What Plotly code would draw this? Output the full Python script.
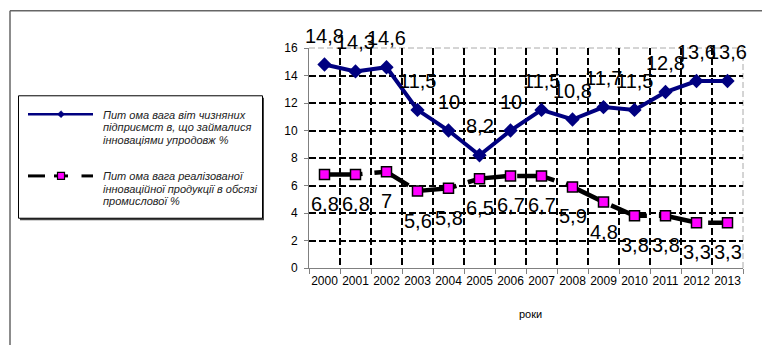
import plotly.graph_objects as go

years = ["2000", "2001", "2002", "2003", "2004", "2005", "2006",
         "2007", "2008", "2009", "2010", "2011", "2012", "2013"]
enterprises_share = [14.8, 14.3, 14.6, 11.5, 10, 8.2, 10, 11.5, 10.8, 11.7, 11.5, 12.8, 13.6, 13.6]
products_share = [6.8, 6.8, 7, 5.6, 5.8, 6.5, 6.7, 6.7, 5.9, 4.8, 3.8, 3.8, 3.3, 3.3]
name1_lines = ["Пит ома вага віт чизняних", "підприємст в, що займалися", "інноваціями упродовж %"]
name2_lines = ["Пит ома вага реалізованої", "інноваційної продукції в обсязі", "промислової %"]
x_title = "роки"
y_ticks = [0, 2, 4, 6, 8, 10, 12, 14, 16]

W, H = 762, 345
ML, MR, MT, MB = 309, 19, 47.5, 76.5
PW, PH = W - ML - MR, H - MT - MB
FONT = "Arial, Liberation Sans, sans-serif"


def px(xp):
    return (xp - ML) / PW


def py(yp):
    return (H - MB - yp) / PH


def fmt(v):
    return ("%g" % v).replace(".", ",")


fig = go.Figure()
fig.add_trace(go.Scatter(
    x=years, y=enterprises_share, name=" ".join(name1_lines), mode="lines+markers",
    line=dict(color="#000080", width=4),
    marker=dict(symbol="diamond", size=11, color="#000080"),
))
fig.add_trace(go.Scatter(
    x=years, y=products_share, name=" ".join(name2_lines), mode="lines+markers",
    line=dict(color="#000000", width=4.5, dash="38px,12px"),
    marker=dict(symbol="square", size=10, color="#FF00FF", line=dict(color="#000000", width=1.5)),
))

annotations = []
for i, yv in enumerate(enterprises_share):
    annotations.append(dict(x=i, y=yv, xref="x", yref="y", text=fmt(yv), showarrow=False,
                            xanchor="center", yanchor="middle", yshift=29,
                            font=dict(family=FONT, size=20, color="#000")))
for i, yv in enumerate(products_share):
    annotations.append(dict(x=i, y=yv, xref="x", yref="y", text=fmt(yv), showarrow=False,
                            xanchor="center", yanchor="middle", yshift=-29.5,
                            font=dict(family=FONT, size=20, color="#000")))
annotations.append(dict(x=px(530), y=py(315), xref="paper", yref="paper", text=x_title,
                        xanchor="center", yanchor="middle",
                        showarrow=False, font=dict(family=FONT, size=11, color="#000")))

# legend text (manual legend box)
for lines, ys in ((name1_lines, (114.5, 127, 139.5)), (name2_lines, (176.5, 189, 201.5))):
    for t, yy in zip(lines, ys):
        annotations.append(dict(x=px(100.5), y=py(yy), xref="paper", yref="paper", text=t,
                                xanchor="left", yanchor="middle", showarrow=False,
                                font=dict(family=FONT, size=11, color="#222", style="italic")))

shapes = [
    # outer chart frame
    dict(type="line", xref="paper", yref="paper", x0=px(10), x1=px(W + 5), y0=py(10), y1=py(10),
         line=dict(color="#666666", width=1.5)),
    dict(type="line", xref="paper", yref="paper", x0=px(10), x1=px(10), y0=py(10), y1=py(H + 5),
         line=dict(color="#666666", width=1.5)),
    # plot-area border (top and right) in light gray dashed
    dict(type="line", xref="paper", yref="paper", x0=0, x1=1, y0=1, y1=1, layer="between",
         line=dict(color="#ffffff", width=3)),
    dict(type="line", xref="paper", yref="paper", x0=0, x1=1, y0=1, y1=1, layer="between",
         line=dict(color="#aaaaaa", width=1, dash="6px,3px")),
    dict(type="line", xref="paper", yref="paper", x0=1, x1=1, y0=0, y1=1, layer="between",
         line=dict(color="#ffffff", width=3)),
    dict(type="line", xref="paper", yref="paper", x0=1, x1=1, y0=0, y1=1, layer="between",
         line=dict(color="#aaaaaa", width=1, dash="6px,3px")),
    # legend box with shadow
    dict(type="rect", xref="paper", yref="paper", x0=px(20), x1=px(264), y0=py(97.5), y1=py(220.5),
         line=dict(width=0), fillcolor="#444444", layer="above"),
    dict(type="rect", xref="paper", yref="paper", x0=px(18.5), x1=px(262.5), y0=py(95.5), y1=py(218.5),
         line=dict(color="#000000", width=1), fillcolor="#ffffff", layer="above"),
    # legend symbol 1
    dict(type="line", xref="paper", yref="paper", x0=px(28), x1=px(93), y0=py(114), y1=py(114),
         line=dict(color="#000080", width=2.5), layer="above"),
    dict(type="path", xref="paper", yref="paper", layer="above",
         path="M %f,%f L %f,%f L %f,%f L %f,%f Z" % (px(57.5), py(114), px(61), py(110.5),
                                                    px(64.5), py(114), px(61), py(117.5)),
         fillcolor="#000080", line=dict(color="#000080", width=0.5)),
    # legend symbol 2
    dict(type="line", xref="paper", yref="paper", x0=px(28), x1=px(45), y0=py(176), y1=py(176),
         line=dict(color="#000000", width=3), layer="above"),
    dict(type="line", xref="paper", yref="paper", x0=px(54), x1=px(68), y0=py(176), y1=py(176),
         line=dict(color="#000000", width=3), layer="above"),
    dict(type="line", xref="paper", yref="paper", x0=px(81.5), x1=px(93), y0=py(176), y1=py(176),
         line=dict(color="#000000", width=3), layer="above"),
    dict(type="rect", xref="paper", yref="paper", x0=px(57.5), x1=px(64.5), y0=py(172.5), y1=py(179.5),
         line=dict(color="#000000", width=1.2), fillcolor="#FF00FF", layer="above"),
]

fig.update_layout(
    width=W, height=H,
    margin=dict(l=ML, r=MR, t=MT, b=MB, pad=0),
    paper_bgcolor="#ffffff", plot_bgcolor="#ffffff",
    font=dict(family=FONT, color="#000"),
    showlegend=False,
    xaxis=dict(type="category", tickson="boundaries", showgrid=True, gridcolor="#000000",
               gridwidth=2, griddash="7px,3px", showline=True, linecolor="#808080", linewidth=1,
               ticks="outside", ticklen=5, tickcolor="#808080", tickangle=0,
               ticklabelstandoff=2,
               tickfont=dict(size=12, family=FONT, color="#000"),
               range=[-0.5, 13.5], zeroline=False),
    yaxis=dict(range=[0, 16], tickvals=y_ticks, showgrid=True, gridcolor="#000000",
               gridwidth=2, griddash="7px,3px", showline=True, linecolor="#808080", linewidth=1,
               ticks="outside", ticklen=4, tickcolor="#808080", ticklabelstandoff=4,
               tickfont=dict(size=12, family=FONT, color="#000"),
               zeroline=False),
    annotations=annotations,
    shapes=shapes,
)

fig.write_html("out.html")
